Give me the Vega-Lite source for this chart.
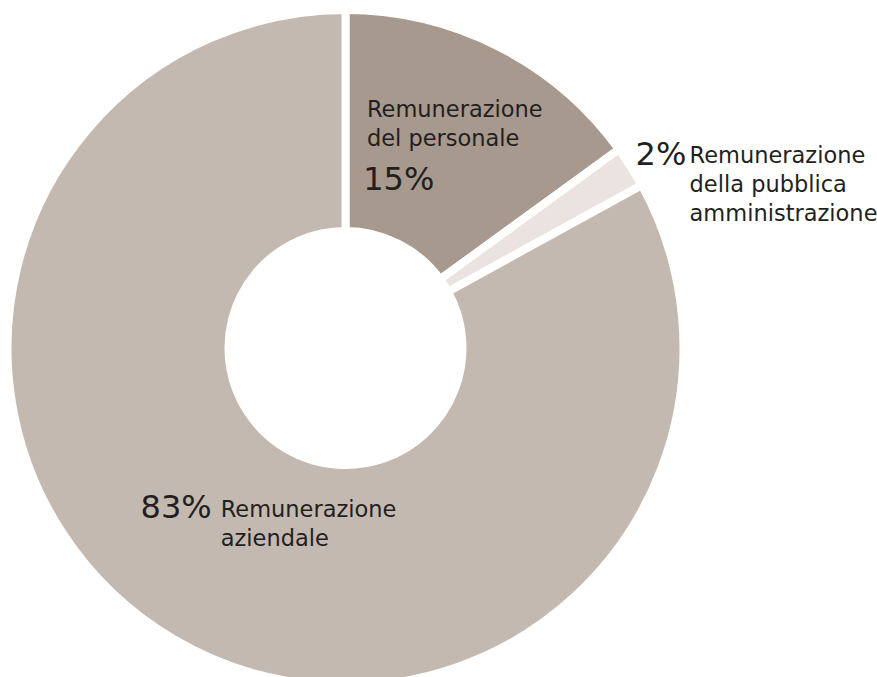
{
  "$schema": "https://vega.github.io/schema/vega-lite/v6.json",
  "width": 691,
  "height": 696,
  "autosize": {"type": "none"},
  "padding": {"left": 0, "top": 0, "right": 186, "bottom": 0},
  "background": "white",
  "config": {"view": {"stroke": null}},
  "data": {
    "values": [
      {"cat": "Remunerazione del personale", "key": "A", "ord": 1, "value": 15, "pct": "15%", "name": "Remunerazione\ndel personale"},
      {"cat": "Remunerazione della pubblica amministrazione", "key": "B", "ord": 2, "value": 2, "pct": "2%", "name": "Remunerazione\ndella pubblica\namministrazione"},
      {"cat": "Remunerazione aziendale", "key": "C", "ord": 3, "value": 83, "pct": "83%", "name": "Remunerazione\naziendale"}
    ]
  },
  "encoding": {
    "theta": {"field": "value", "type": "quantitative", "stack": true},
    "order": {"field": "ord", "type": "quantitative"}
  },
  "layer": [
    {
      "mark": {"type": "arc", "outerRadius": 338, "innerRadius": 117, "stroke": "white", "strokeWidth": 8},
      "encoding": {
        "color": {
          "field": "key", "type": "nominal",
          "scale": {"domain": ["A", "B", "C"], "range": ["#a7998d", "#ebe3df", "#c4b9b0"]},
          "legend": null
        }
      }
    },
    {
      "mark": {"type": "text", "radius": 230, "align": "left", "baseline": "alphabetic", "dx": -83, "dy": -26, "font": "DejaVu Sans", "fontSize": 22.5, "lineHeight": 29, "lineBreak": "\n", "color": "#231f20"},
      "encoding": {"text": {"condition": {"test": "datum.key === 'A'", "field": "name"}, "value": ""}}
    },
    {
      "mark": {"type": "text", "radius": 180, "align": "left", "baseline": "alphabetic", "dx": -64, "dy": 2, "font": "DejaVu Sans", "fontSize": 32, "color": "#231f20"},
      "encoding": {"text": {"condition": {"test": "datum.key === 'A'", "field": "pct"}, "value": ""}}
    },
    {
      "mark": {"type": "text", "radius": 340, "align": "left", "baseline": "alphabetic", "dx": 3, "dy": -1, "font": "DejaVu Sans", "fontSize": 32, "color": "#231f20"},
      "encoding": {"text": {"condition": {"test": "datum.key === 'B'", "field": "pct"}, "value": ""}}
    },
    {
      "mark": {"type": "text", "radius": 340, "align": "left", "baseline": "alphabetic", "dx": 57, "dy": -3, "font": "DejaVu Sans", "fontSize": 22.5, "lineHeight": 29, "lineBreak": "\n", "color": "#231f20"},
      "encoding": {"text": {"condition": {"test": "datum.key === 'B'", "field": "name"}, "value": ""}}
    },
    {
      "mark": {"type": "text", "radius": 200, "align": "right", "baseline": "alphabetic", "dx": -32, "dy": -2, "font": "DejaVu Sans", "fontSize": 32, "color": "#231f20"},
      "encoding": {"text": {"condition": {"test": "datum.key === 'C'", "field": "pct"}, "value": ""}}
    },
    {
      "mark": {"type": "text", "radius": 200, "align": "left", "baseline": "alphabetic", "dx": -23, "dy": -3, "font": "DejaVu Sans", "fontSize": 22.5, "lineHeight": 29, "lineBreak": "\n", "color": "#231f20"},
      "encoding": {"text": {"condition": {"test": "datum.key === 'C'", "field": "name"}, "value": ""}}
    }
  ]
}
